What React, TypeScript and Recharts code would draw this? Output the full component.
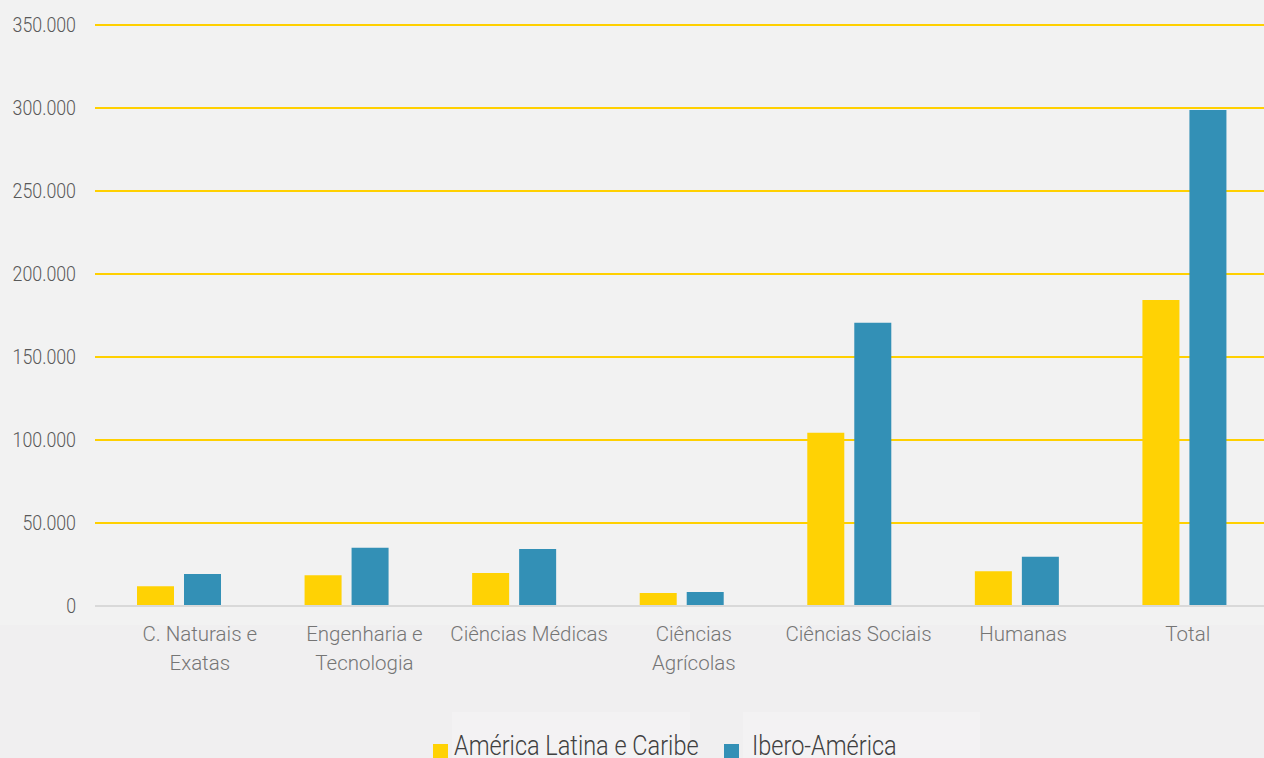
import React from "react";
import { BarChart, Bar, XAxis, YAxis, CartesianGrid, Legend } from "recharts";

const categories = [
  "C. Naturais e Exatas",
  "Engenharia e Tecnologia",
  "Ciências Médicas",
  "Ciências Agrícolas",
  "Ciências Sociais",
  "Humanas",
  "Total",
];
const categoryLabelLines = [
  ["C. Naturais e", "Exatas"],
  ["Engenharia e", "Tecnologia"],
  ["Ciências Médicas"],
  ["Ciências", "Agrícolas"],
  ["Ciências Sociais"],
  ["Humanas"],
  ["Total"],
];
const americaLatina = [11900, 18500, 19900, 7800, 104400, 20900, 184300];
const iberoAmerica = [19300, 35100, 34300, 8400, 170700, 29700, 298800];
const yTicks = [0, 50000, 100000, 150000, 200000, 250000, 300000, 350000];
const seriesNames = ["América Latina e Caribe", "Ibero-América"];

const YELLOW = "#FFD204";
const BLUE = "#3390B6";
const FONT = "Roboto, 'Noto Sans', sans-serif";

const data = categories.map((c, i) => ({
  name: c,
  idx: i,
  alc: americaLatina[i],
  ibero: iberoAmerica[i],
}));

const fmt = (v: number) => v.toLocaleString("de-DE");

const YTick = (props: any) => {
  const { x, y, payload } = props;
  return (
    <g transform={`translate(${x},${y}) scale(0.89,1)`}>
      <text x={0} y={0} dy="0.36em" textAnchor="end" fill="#595959" fontFamily={FONT} fontWeight={300} fontSize={20}>
        {fmt(payload.value)}
      </text>
    </g>
  );
};

const XTick = (props: any) => {
  const { x, y, index } = props;
  const lines = categoryLabelLines[index] || [];
  const dx = 21 - 2.9 * index;
  return (
    <g transform={`translate(${x + dx},${y})`}>
      <text textAnchor="middle" fill="#757575" fontFamily={FONT} fontWeight={300} fontSize={20.5}>
        {lines.map((l: string, k: number) => (
          <tspan key={k} x={0} y={35 + k * 29}>
            {l}
          </tspan>
        ))}
      </text>
    </g>
  );
};

const LegendContent = (props: any) => {
  const { payload } = props;
  const squareX = [433, 724];
  const textX = [454, 752];
  return (
    <svg width={1264} height={40} style={{ display: "block" }}>
      {(payload || []).map((p: any, i: number) => (
        <g key={i}>
          <rect x={squareX[i]} y={16} width={15} height={15} fill={p.color} />
          <g transform={`translate(${textX[i]},${27}) scale(0.84,1)`}>
            <text x={0} y={0} fill="#404040" fontFamily={FONT} fontWeight={300} fontSize={28}>
              {p.value}
            </text>
          </g>
        </g>
      ))}
    </svg>
  );
};

export default function App() {
  return (
    <div
      style={{
        position: "absolute",
        left: 0,
        top: 0,
        width: 1264,
        height: 758,
        overflow: "hidden",
        background: "#f2f2f2",
      }}
    >
      <div style={{ position: "absolute", left: 0, top: 625, width: 1264, height: 133, background: "#f0eff0" }} />
      <div style={{ position: "absolute", left: 452, top: 712, width: 238, height: 46, background: "#f3f2f3" }} />
      <div style={{ position: "absolute", left: 743, top: 712, width: 237, height: 46, background: "#f3f2f3" }} />
      <div style={{ position: "absolute", left: 0, top: 0 }}>
        <BarChart
          width={1268}
          height={758}
          data={data}
          margin={{ top: 25, right: 0, bottom: 0, left: 0 }}
          barGap={10}
          barSize={37}
        >
          <CartesianGrid vertical={false} stroke="#FFD000" strokeWidth={2} />
          <XAxis
            dataKey="name"
            height={152}
            tickLine={false}
            tickSize={0}
            tickMargin={0}
            axisLine={{ stroke: "#d9d9d9", strokeWidth: 2 }}
            tick={<XTick />}
            interval={0}
          />
          <YAxis
            width={95}
            domain={[0, 350000]}
            ticks={yTicks}
            tickLine={false}
            axisLine={false}
            tickSize={0}
            tickMargin={19}
            tick={<YTick />}
            interval={0}
          />
          <Legend
            layout="horizontal"
            verticalAlign="middle"
            align="center"
            wrapperStyle={{ top: 728, left: 0, width: 1264, height: 40 }}
            content={<LegendContent />}
          />
          <Bar dataKey="alc" name={seriesNames[0]} fill={YELLOW} isAnimationActive={false} />
          <Bar dataKey="ibero" name={seriesNames[1]} fill={BLUE} isAnimationActive={false} />
        </BarChart>
      </div>
    </div>
  );
}
